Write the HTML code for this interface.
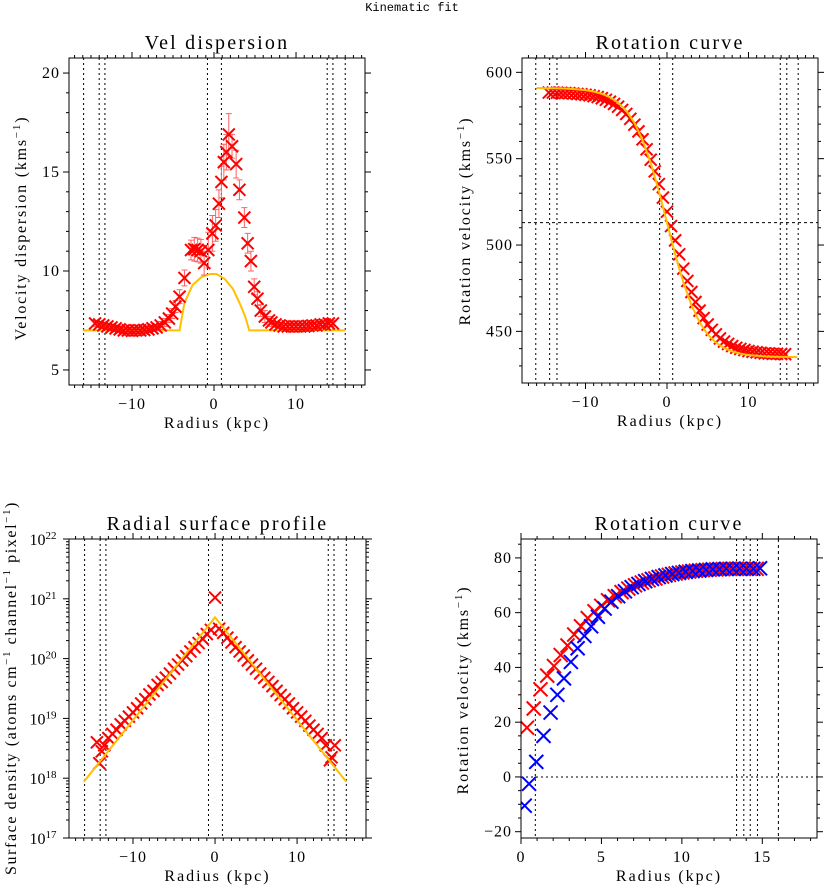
<!DOCTYPE html>
<html><head><meta charset="utf-8">
<style>
html,body{margin:0;padding:0;background:#fff;}
svg{display:block;font-family:"Liberation Serif","DejaVu Serif",serif;}
</style></head>
<body>
<svg id="chart" width="824" height="888" viewBox="0 0 824 888" xmlns="http://www.w3.org/2000/svg">
<text x="412" y="11" font-size="12" text-anchor="middle" font-family="Liberation Mono, monospace">Kinematic fit</text>
</svg>
<script>
// ---------- Panel 1: velocity dispersion ----------
const dispX = [-14.5,-14,-13.5,-13,-12.5,-12,-11.5,-11,-10.5,-10,-9.5,-9,-8.5,-8,-7.5,-7,-6.5,-6,-5.5,-5.1,-4.7,-4.2,-3.6,-2.8,-2.4,-2.0,-1.6,-1.2,-0.7,-0.2,0.2,0.6,0.9,1.2,1.5,1.8,2.2,2.7,3.1,3.7,4.1,4.5,4.9,5.3,5.7,6.2,6.7,7,7.5,8,8.5,9,9.5,10,10.5,11,11.5,12,12.5,13,13.5,14,14.5];
const dispV = [7.35,7.3,7.25,7.2,7.15,7.1,7.05,7.0,7.0,6.98,7.0,7.0,7.02,7.05,7.1,7.15,7.25,7.4,7.6,7.85,8.2,8.7,9.65,11.06,11.1,11.06,11.0,10.4,11.06,11.9,12.3,13.4,14.5,15.5,16.0,16.9,16.3,15.4,14.1,12.7,11.4,10.5,9.2,8.6,8.0,7.7,7.5,7.4,7.3,7.25,7.2,7.2,7.2,7.2,7.2,7.2,7.22,7.25,7.25,7.3,7.3,7.35,7.35];
const dispErr = [0.15,0.15,0.15,0.15,0.15,0.15,0.15,0.15,0.15,0.15,0.15,0.15,0.15,0.15,0.15,0.15,0.2,0.2,0.2,0.25,0.3,0.35,0.4,0.5,0.6,0.6,0.6,0.6,0.9,0.9,0.8,0.7,0.8,0.9,0.9,1.05,0.6,0.7,0.5,0.5,0.5,0.5,0.4,0.35,0.3,0.3,0.2,0.2,0.15,0.15,0.15,0.15,0.15,0.15,0.15,0.15,0.15,0.15,0.15,0.15,0.15,0.15,0.15];
const dispModelX = [-16,-4.2,-3.6,-2.6,-1.5,-0.5,0.3,1.3,2.3,3.1,3.8,4.3,16];
const dispModelV = [7,7,8.4,9.3,9.7,9.85,9.85,9.6,9.1,8.4,7.7,7.0,7];

// ---------- Panel 2: rotation curve (two-sided) ----------
const rotX = [-14.5,-14,-13.5,-13,-12.5,-12,-11.5,-11,-10.5,-10,-9.5,-9,-8.5,-8,-7.5,-7,-6.5,-6,-5.5,-5,-4.5,-4,-3.5,-3,-2.5,-2,-1.5,-1,-0.5,0,0.5,1,1.5,2,2.5,3,3.5,4,4.5,5,5.5,6,6.5,7,7.5,8,8.5,9,9.5,10,10.5,11,11.5,12,12.5,13,13.5,14,14.5];
const rotV = [588.3,588.3,588.2,588.1,588.0,587.9,587.7,587.5,587.3,587.0,586.7,586.2,585.7,585.0,584.1,583.0,581.7,580.1,578.2,575.9,573.1,569.7,565.8,561.2,555.4,549.4,542.7,535.3,527.5,519.3,511.0,502.7,494.6,486.3,479.2,472.8,467.0,462.0,457.7,454.0,450.9,448.3,445.9,444.1,442.7,441.5,440.5,439.8,439.2,438.6,438.2,437.9,437.6,437.3,437.2,437.0,437.0,436.9,436.8];
const rotModelX = [-16,-15,-14,-13,-12,-11,-10,-9,-8,-7,-6,-5,-4,-3,-2,-1,0,1,2,3,4,5,6,7,8,9,10,11,12,13,14,15,16];
const rotModelV = [590.9,590.8,590.8,590.7,590.5,590.1,589.7,588.9,587.6,585.6,582.5,577.8,570.8,560.8,547.6,531.3,513,494.7,478.4,465.2,455.2,448.2,443.5,440.4,438.4,437.1,436.3,435.9,435.5,435.3,435.2,435.2,435.1];
const rotSystemic = [513];

// ---------- Panel 3: surface density (log10) ----------
const sdX = [-14.4,-14.1,-13.8,-13.5,-13,-12.5,-12,-11.5,-11,-10.5,-10,-9.5,-9,-8.5,-8,-7.5,-7,-6.5,-6,-5.5,-5,-4.5,-4,-3.5,-3,-2.5,-2,-1.5,-1,-0.5,0,0.5,1,1.5,2,2.5,3,3.5,4,4.5,5,5.5,6,6.5,7,7.5,8,8.5,9,9.5,10,10.5,11,11.5,12,12.5,13,13.5,14.0,14.2,14.6];
const sdLog = [18.6,18.25,18.45,18.55,18.67,18.74,18.81,18.9,18.96,19.03,19.1,19.17,19.25,19.32,19.4,19.46,19.56,19.61,19.68,19.75,19.83,19.9,19.97,20.04,20.12,20.19,20.26,20.33,20.41,20.48,21.02,20.5,20.43,20.35,20.27,20.19,20.12,20.05,19.97,19.9,19.83,19.75,19.68,19.61,19.54,19.46,19.39,19.32,19.25,19.17,19.1,19.03,18.96,18.88,18.81,18.74,18.67,18.55,18.3,18.35,18.55];
const sdModelX = [-16,0,16];
const sdModelLog = [17.94,20.69,17.94];

// ---------- Panel 4: rotation curve folded ----------
const recR = [0.37,0.79,1.21,1.63,2.05,2.47,2.89,3.31,3.73,4.15,4.57,4.99,5.41,5.83,6.25,6.67,7.09,7.51,7.93,8.35,8.77,9.19,9.61,10.03,10.45,10.87,11.29,11.71,12.13,12.55,12.97,13.39,13.81,14.23,14.65];
const recV = [18,25,32,37,40.5,44.5,48,52,55,58,60.5,62.5,64.5,66,67.5,68.8,70,71,71.8,72.5,73.2,73.8,74.3,74.7,75,75.3,75.5,75.7,75.8,75.9,76,76,76,76,76];
const appR = [0.23,0.5,0.95,1.4,1.84,2.26,2.67,3.1,3.52,3.94,4.36,4.78,5.2,5.62,6.04,6.46,6.88,7.3,7.72,8.14,8.56,8.98,9.4,9.82,10.24,10.66,11.08,11.5,11.92,12.34,12.76,13.18,13.6,14.02,14.44,14.86];
const appV = [-10.5,-2.5,5.5,15,23.5,30,36,42,47,51.5,55,58.5,61.5,64,66,67.8,69.3,70.5,71.5,72.3,73,73.6,74.1,74.5,74.9,75.2,75.4,75.6,75.8,75.9,76,76,76,76,76,76.2];

// vertical reference lines (kpc)
const ringsTwoSided = [-15.9,-14.0,-13.3,-0.8,0.9,13.8,14.5,16.0];
const ringsRot = [-16.1,-14.4,-13.5,-0.9,0.7,13.9,14.7,16.1];
const ringsOneSided = [0.89,13.4,13.85,14.25,14.7];
const ringOuter = [16.0];

const svg = document.getElementById('chart');
const NS = 'http://www.w3.org/2000/svg';
function mk(tag, attrs, parent){
  const e = document.createElementNS(NS, tag);
  for (const k in attrs) e.setAttribute(k, attrs[k]);
  (parent||svg).appendChild(e);
  return e;
}
function lin(d0,d1,r0,r1){ return v => r0 + (v-d0)/(d1-d0)*(r1-r0); }

function panel(cfg){
  const g = mk('g', {});
  
  
  const {L,T,R,B} = cfg;
  const sx = lin(cfg.xmin,cfg.xmax,L,R);
  const sy = lin(cfg.ymin,cfg.ymax,B,T);
  const clipId = cfg.name+'-clip';
  const cp = mk('clipPath',{id:clipId},g);
  mk('rect',{x:L,y:T,width:R-L,height:B-T},cp);
  const inner = mk('g',{'clip-path':'url(#'+clipId+')'},g);
  const tk = mk('g',{stroke:'#000','stroke-width':1},g);
  
  
  for (let v=Math.ceil(cfg.xmin/cfg.xminor)*cfg.xminor; v<=cfg.xmax; v+=cfg.xminor){
    const x = sx(v); const maj = Math.abs(v/cfg.xmajor - Math.round(v/cfg.xmajor))<1e-6;
    const len = maj?6:3;
    mk('line',{x1:x,x2:x,y1:B,y2:B+len},tk); mk('line',{x1:x,x2:x,y1:T,y2:T-len},tk);
  }
  cfg.yticks.forEach(t=>{
    const y = sy(t.v); const len = t.maj?6:3;
    mk('line',{x1:L,x2:L-len,y1:y,y2:y},tk); mk('line',{x1:R,x2:R+len,y1:y,y2:y},tk);
  });
  cfg.xlabels.forEach(v=>{
    const t = mk('text',{x:sx(v),y:B+24,'font-size':16,'text-anchor':'middle','letter-spacing':'1'},g);
    t.textContent = v<0 ? '\u2212'+Math.abs(v) : String(v);
    
    
  });
  cfg.ylabels(g, sy, L);
  const fr = mk('rect',{x:L,y:T,width:R-L,height:B-T,fill:'none',stroke:'#000','stroke-width':1},g);
  
  
  const tt = mk('text',{x:(L+R)/2,y:T-9,'font-size':20,'text-anchor':'middle','letter-spacing':'2.2'},g);
  tt.textContent = cfg.title;
  
  
  const xl = mk('text',{x:(L+R)/2,y:B+43,'font-size':16,'text-anchor':'middle','letter-spacing':'2'},g);
  xl.textContent = 'Radius (kpc)';
  
  
  return {g, inner, sx, sy};
}
function vlines(p, arr, cfg, dash){
  arr.forEach(v=>{
    const l = mk('line',{x1:p.sx(v),x2:p.sx(v),y1:cfg.T,y2:cfg.B,stroke:'#000','stroke-width':1,'stroke-dasharray':dash||'2,3'},p.inner);
    
    
  });
}
function cross(parent, x, y, s, color, w){
  const p = mk('path',{d:`M${x-s},${y-s}L${x+s},${y+s}M${x-s},${y+s}L${x+s},${y-s}`,stroke:color,'stroke-width':w||2,fill:'none'},parent);
  
  
}
function modelLine(p, xs, ys){
  const d = xs.map((x,i)=>(i?'L':'M')+p.sx(x)+','+p.sy(ys[i])).join('');
  const l = mk('path',{d, stroke:'#ffc000','stroke-width':2,fill:'none'},p.inner);
  
  
}
function ylab(text, sup, x, y, ls){
  const t = mk('text',{x, y, 'font-size':16,'text-anchor':'middle','letter-spacing':ls||'1.8',transform:`rotate(-90 ${x} ${y})`});
  
  
  text.forEach((s,i)=>{
    const a = mk('tspan',{},t); a.textContent = s;
    if (sup[i]){ const b = mk('tspan',{'baseline-shift':'super','font-size':11},t); b.textContent = sup[i]; }
  });
}
function linearYTicks(min,max,minor,major){
  const out=[]; for(let v=Math.ceil(min/minor)*minor; v<=max+1e-9; v+=minor){ out.push({v, maj:Math.abs(v/major-Math.round(v/major))<1e-6}); } return out;
}
function linearYLabels(vals){
  return (g, sy, L)=>vals.forEach(v=>{
    const t = mk('text',{x:L-9,y:sy(v)+5,'font-size':16,'text-anchor':'end','letter-spacing':'1'},g);
    t.textContent = v<0?'\u2212'+Math.abs(v):String(v);
    
    
  });
}

// ---- Panel 1
const c1 = {name:'vel-dispersion-panel',title:'Vel dispersion',L:69,T:58,R:365,B:385,xmin:-17.68,xmax:18.41,ymin:4.24,ymax:20.76,xminor:1,xmajor:10,xlabels:[-10,0,10]};
c1.yticks = linearYTicks(c1.ymin,c1.ymax,1,5); c1.ylabels = linearYLabels([5,10,15,20]);
const p1 = panel(c1);
vlines(p1, ringsTwoSided, c1);
modelLine(p1, dispModelX, dispModelV);
dispX.forEach((x,i)=>{
  const X=p1.sx(x), y0=p1.sy(dispV[i]-dispErr[i]), y1=p1.sy(dispV[i]+dispErr[i]);
  const e = mk('path',{d:`M${X},${y0}L${X},${y1}M${X-3},${y0}L${X+3},${y0}M${X-3},${y1}L${X+3},${y1}`,stroke:'#ff6060','stroke-width':1,fill:'none'},p1.inner);
  
  
});
dispX.forEach((x,i)=>cross(p1.inner,p1.sx(x),p1.sy(dispV[i]),6,'#ff0000',2));
ylab(['Velocity dispersion (kms',')'],['\u22121',''],26,228);

// ---- Panel 2
const c2 = {name:'rotation-curve-panel',title:'Rotation curve',L:522,T:58,R:818,B:383,xmin:-17.79,xmax:18.53,ymin:420.1,ymax:608.3,xminor:1,xmajor:10,xlabels:[-10,0,10]};
c2.yticks = linearYTicks(c2.ymin,c2.ymax,10,50); c2.ylabels = linearYLabels([450,500,550,600]);
const p2 = panel(c2);
vlines(p2, ringsRot, c2);
rotSystemic.forEach(v=>{
  const l = mk('line',{x1:c2.L,x2:c2.R,y1:p2.sy(v),y2:p2.sy(v),stroke:'#000','stroke-width':1,'stroke-dasharray':'3,3'},p2.inner);
  
  
});
rotX.forEach((x,i)=>cross(p2.inner,p2.sx(x),p2.sy(rotV[i]),6,'#ff0000',2));
modelLine(p2, rotModelX, rotModelV);
ylab(['Rotation velocity (kms',')'],['\u22121',''],470,221);

// ---- Panel 3
const c3 = {name:'surface-profile-panel',title:'Radial surface profile',L:69,T:539,R:366,B:838,xmin:-17.8,xmax:18.4,ymin:17,ymax:22,xminor:1,xmajor:10,xlabels:[-10,0,10]};
c3.yticks = [];
for (let d=17; d<22; d++) for (let m=1; m<10; m++) c3.yticks.push({v:d+Math.log10(m), maj:m===1});
c3.yticks.push({v:22,maj:true});
c3.ylabels = (g, sy, L)=>[17,18,19,20,21,22].forEach(v=>{
  const t = mk('text',{x:L-26,y:sy(v)+6,'font-size':16,'text-anchor':'middle'},g);
  
  
  const a = mk('tspan',{},t); a.textContent='10';
  const b = mk('tspan',{'baseline-shift':'super','font-size':11},t); b.textContent=String(v);
});
const p3 = panel(c3);
vlines(p3, ringsTwoSided, c3);
sdX.forEach((x,i)=>cross(p3.inner,p3.sx(x),p3.sy(sdLog[i]),6,'#ff0000',2));
modelLine(p3, sdModelX, sdModelLog);
ylab(['Surface density (atoms cm','  channel','  pixel',')'],['\u22121','\u22121','\u22121',''],16,688,'1.6');

// ---- Panel 4
const c4 = {name:'folded-rotation-curve-panel',title:'Rotation curve',L:521,T:539,R:817,B:838,xmin:0,xmax:18.4,ymin:-22.3,ymax:86.9,xminor:1,xmajor:5,xlabels:[0,5,10,15]};
c4.yticks = linearYTicks(c4.ymin,c4.ymax,5,20); c4.ylabels = linearYLabels([-20,0,20,40,60,80]);
const p4 = panel(c4);
vlines(p4, ringsOneSided, c4);
vlines(p4, ringOuter, c4, '3,3');
const zl = mk('line',{x1:c4.L,x2:c4.R,y1:p4.sy(0),y2:p4.sy(0),stroke:'#000','stroke-width':1,'stroke-dasharray':'2,3'},p4.inner);


recR.forEach((r,i)=>cross(p4.inner,p4.sx(r),p4.sy(recV[i]),7,'#ff0000',2));
appR.forEach((r,i)=>cross(p4.inner,p4.sx(r),p4.sy(appV[i]),7,'#0000ff',2));
ylab(['Rotation velocity (kms',')'],['\u22121',''],468,690);
</script>
</body></html>
